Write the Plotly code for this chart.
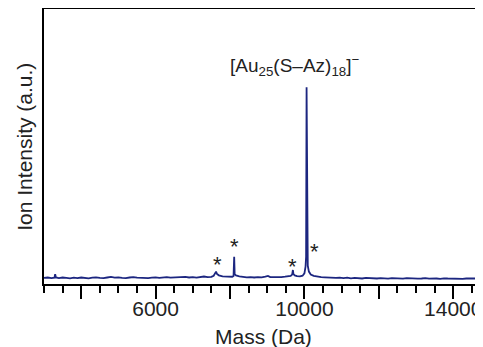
import plotly.graph_objects as go

# ---- data ----
mass_da = [3000, 3100, 3200, 3280, 3300, 3320, 3400, 3500, 3600, 3700, 3800, 3900,
           4000, 4100, 4200, 4300, 4400, 4500, 4600, 4700, 4800, 4900,
           5000, 5100, 5200, 5300, 5400, 5500, 5600, 5700, 5800, 5900,
           6000, 6100, 6200, 6300, 6400, 6500, 6600, 6700, 6800, 6900,
           7000, 7100, 7200, 7300, 7400, 7500,
           7560, 7600, 7625, 7650, 7700, 7800, 7900, 8000, 8060,
           8095, 8112, 8125, 8160, 8250, 8350, 8450, 8550, 8650, 8750, 8850, 8950,
           9020, 9080, 9180, 9280, 9380, 9480, 9560, 9630,
           9670, 9690, 9705, 9740, 9800, 9880, 9950,
           10000, 10030, 10045, 10058, 10070, 10090, 10120, 10170, 10250, 10350, 10450,
           10550, 10650, 10750, 10850, 10950, 11050, 11150, 11250, 11350, 11450,
           11550, 11650, 11750, 11850, 11950, 12050, 12150, 12250, 12350, 12450,
           12550, 12650, 12750, 12850, 12950, 13050, 13150, 13250, 13350, 13450,
           13550, 13650, 13750, 13850, 13950, 14050, 14150, 14250, 14350, 14450,
           14550, 14650, 14750, 14800]
intensity = [3.1, 3.3, 3.0, 3.2, 5.0, 3.3, 3.0, 3.3, 3.1, 2.9, 3.2, 3.0,
             3.3, 3.1, 2.9, 3.2, 3.4, 3.1, 3.0, 3.3, 3.6, 3.2,
             3.4, 3.1, 3.0, 3.3, 3.5, 3.2, 3.1, 3.3, 3.0, 3.2,
             3.4, 3.1, 3.3, 3.5, 3.2, 3.3, 3.1, 3.4, 3.6, 3.3,
             3.5, 3.2, 3.6, 3.8, 3.5, 3.6,
             4.2, 5.4, 6.3, 5.1, 4.4, 3.9, 3.7, 3.6, 3.7,
             4.1, 13.8, 5.0, 4.4, 3.9, 3.6, 3.4, 3.5, 3.3, 3.5, 3.4, 3.7,
             4.1, 3.5, 3.4, 3.6, 3.5, 3.7, 3.9, 4.1,
             4.8, 7.1, 5.0, 4.4, 4.0, 3.9, 4.2,
             5.4, 8.8, 13.8, 100.0, 13.5, 9.3, 6.3, 4.8, 4.1, 3.7, 3.5,
             3.4, 3.2, 3.3, 3.1, 3.2, 3.0, 3.2, 2.9, 3.1, 3.0,
             2.8, 3.1, 2.9, 3.0, 2.8, 3.0, 2.9, 2.7, 3.0, 2.8,
             2.9, 2.7, 3.0, 2.8, 2.9, 2.7, 2.8, 3.0, 2.7, 2.9,
             2.8, 2.6, 2.9, 2.8, 2.7, 2.9, 2.8, 2.6, 2.8, 2.9,
             2.7, 2.8, 2.7, 2.8]

label_main = "[Au<sub>25</sub>(S–Az)<sub>18</sub>]<sup>−</sup>"
label_main_pos = (9745, 111)
star_mass = [7657, 8133, 9692, 10283]
star_int = [12.5, 21.8, 11.3, 19.3]

major_ticks = [4000, 6000, 8000, 10000, 12000, 14000]
major_text = ["", "6000", "", "10000", "", "14000"]

FONT = "Liberation Sans, Arial, sans-serif"
NAVY = "#1c2680"

fig = go.Figure()
fig.add_trace(go.Scatter(x=mass_da, y=intensity, mode="lines",
                         line=dict(color=NAVY, width=1.8), showlegend=False,
                         hoverinfo="skip"))

fig.add_annotation(x=label_main_pos[0], y=label_main_pos[1], xref="x", yref="y",
                   text=label_main, showarrow=False, xanchor="center", yanchor="middle",
                   font=dict(family=FONT, size=19, color="#222"))
for m, v in zip(star_mass, star_int):
    fig.add_annotation(x=m, y=v, xref="x", yref="y", text="*", showarrow=False,
                       xanchor="center", yanchor="middle", yshift=-5,
                       font=dict(family=FONT, size=22, color="#222"))

fig.add_annotation(x=-0.045, y=0.5, xref="paper", yref="paper",
                   text="Ion Intensity (a.u.)", textangle=-90, showarrow=False,
                   xanchor="center", yanchor="middle",
                   font=dict(family=FONT, size=21, color="#222"))
fig.add_annotation(x=0.5, y=-0.192, xref="paper", yref="paper",
                   text="Mass (Da)", showarrow=False,
                   xanchor="center", yanchor="middle",
                   font=dict(family=FONT, size=21, color="#222"))

# page body has an 8px margin: figure is 475x339 so it fills the 483x347 window
fig.update_layout(
    width=475, height=339,
    margin=dict(l=36, r=0, t=1, b=63, autoexpand=False),
    paper_bgcolor="white", plot_bgcolor="white",
    font=dict(family=FONT, size=21, color="#222"),
    xaxis=dict(range=[3000, 14800], showgrid=False, zeroline=False, automargin=False,
               showline=True, linecolor="black", linewidth=1.6, mirror=True,
               tickmode="array", tickvals=major_ticks, ticktext=major_text,
               ticks="outside", ticklen=13, tickwidth=1.6, tickcolor="black",
               ticklabelstandoff=-8,
               tickfont=dict(family=FONT, size=21, color="#222"),
               minor=dict(tickmode="linear", tick0=3000, dtick=500, ticks="outside",
                          ticklen=7, tickwidth=1.6, tickcolor="black", showgrid=False)),
    yaxis=dict(range=[0, 139.7], showgrid=False, zeroline=False, automargin=False,
               showline=True, linecolor="black", linewidth=1.6,
               showticklabels=False, ticks=""),
)

fig.write_html("out.html")
